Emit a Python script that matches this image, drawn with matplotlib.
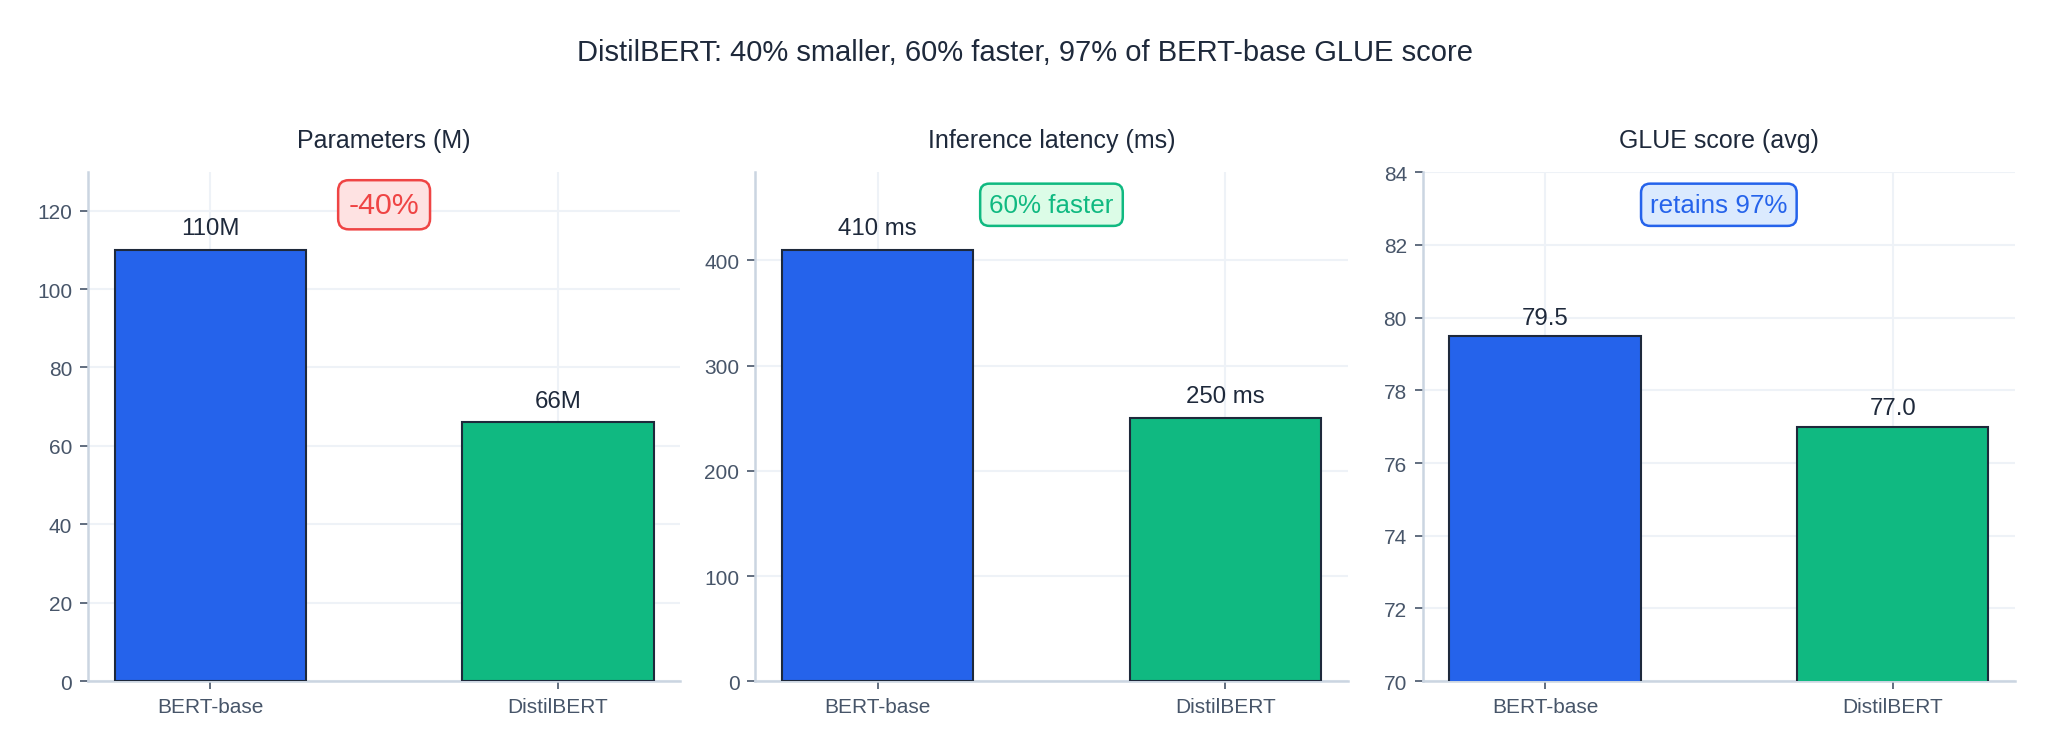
import matplotlib
matplotlib.use("Agg")
import matplotlib.pyplot as plt

plt.rcParams["font.family"] = ["Liberation Sans", "DejaVu Sans"]

models = ["BERT-base", "DistilBERT"]
params_m = [110, 66]
latency_ms = [410, 250]
glue_avg = [79.5, 77.0]

panel_titles = ["Parameters (M)", "Inference latency (ms)", "GLUE score (avg)"]
bar_labels = [["110M", "66M"], ["410 ms", "250 ms"], ["79.5", "77.0"]]
badges = ["-40%", "60% faster", "retains 97%"]

bar_colors = ["#2563EB", "#10B981"]
# edge, face, size of the badge in each panel
badge_styles = [("#EF4444", "#FEE2E2", 14.5), ("#10B981", "#DCFCE7", 12.5), ("#2563EB", "#DBEAFE", 12.5)]

ink = "#1E293B"
muted = "#475569"
spine = "#CBD5E1"
gridc = "#EEF2F7"

fig, axes = plt.subplots(1, 3, figsize=(13.667, 5.02), dpi=150)
fig.subplots_adjust(left=0.0428, right=0.983, bottom=0.094, top=0.770, wspace=0.126)
fig.suptitle("DistilBERT: 40% smaller, 60% faster, 97% of BERT-base GLUE score",
             fontsize=14, color=ink, y=0.93, va="center")

series = [params_m, latency_ms, glue_avg]
for i, ax in enumerate(axes):
    vals = series[i]
    ax.bar(range(len(models)), vals, width=0.55, color=bar_colors,
           edgecolor=ink, linewidth=1.0, zorder=3)
    ax.set_xticks(range(len(models)))
    ax.set_xticklabels(models)
    if i == 2:
        ax.set_ylim(70, 84)
        off = 0.2
    else:
        ax.set_ylim(0, max(vals) * 1.18)
        off = max(vals) * 0.025
    for j, v in enumerate(vals):
        ax.text(j, v + off, bar_labels[i][j], ha="center", va="bottom",
                fontsize=11.5, color=ink, zorder=4)
    ax.set_title(panel_titles[i], fontsize=12, color=ink, pad=12)
    ec, fc, fs = badge_styles[i]
    ax.text(0.5, 0.936, badges[i], transform=ax.transAxes, ha="center", va="center",
            fontsize=fs, color=ec, zorder=5,
            bbox=dict(boxstyle="round,pad=0.35", facecolor=fc, edgecolor=ec, linewidth=1.2))
    ax.grid(True, color=gridc, linewidth=1.0, zorder=0)
    ax.set_axisbelow(True)
    for s in ["top", "right"]:
        ax.spines[s].set_visible(False)
    for s in ["left", "bottom"]:
        ax.spines[s].set_color(spine)
        ax.spines[s].set_linewidth(1.2)
    ax.tick_params(colors=muted, labelsize=10, length=4, width=0.8)

fig.savefig("out.png", dpi=150, facecolor="white")
